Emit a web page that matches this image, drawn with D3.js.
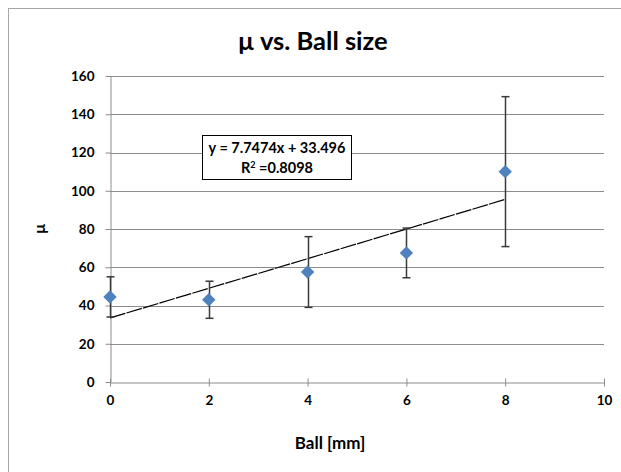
<!DOCTYPE html>
<html>
<head>
<meta charset="utf-8">
<script src="https://cdn.jsdelivr.net/npm/d3@7"></script>
<style>
  body { margin: 0; background: #fff; }
  text { font-family: Lato, "Open Sans", sans-serif; font-weight: bold; fill: #000; }
</style>
</head>
<body>
<svg id="chart"></svg>
<script>
// data
var ballSize = [0, 2, 4, 6, 8]
var mu = [44.5, 43, 57.5, 67.5, 110]
var muErr = [10.5, 9.7, 18.5, 13, 39.2]
var xTicks = [0, 2, 4, 6, 8, 10]
var yTicks = [0, 20, 40, 60, 80, 100, 120, 140, 160]
var trend = { slope: 7.7474, intercept: 33.496, r2: 0.8098 }

var width = 621, height = 472
var margin = { left: 110, right: 17, top: 76, bottom: 90 }

var svg = d3.select('#chart').attr('width', width).attr('height', height)

// outer chart border (only top/left fall inside the frame)
svg.append('rect')
    .attr('x', 8.5).attr('y', 8.5)
    .attr('width', 640).attr('height', 500)
    .attr('fill', 'none')
    .attr('stroke', '#a6a6a6')

var x = d3.scaleLinear().domain([0, 10]).range([margin.left, width - margin.right])
var y = d3.scaleLinear().domain([0, 160]).range([height - margin.bottom, margin.top])

// gridlines
svg.append('g')
    .selectAll('line')
    .data(yTicks.filter(d => d > 0))
    .enter().append('line')
    .attr('x1', x(0)).attr('x2', x(10))
    .attr('y1', d => Math.round(y(d)) + 0.5).attr('y2', d => Math.round(y(d)) + 0.5)
    .attr('stroke', '#8c8c8c')

// y axis
var yAxis = svg.append('g')
    .attr('transform', 'translate(' + (Math.round(x(0)) + 0.5) + ',0)')
    .call(d3.axisLeft(y).tickValues(yTicks).tickSize(5).tickSizeOuter(0).tickPadding(11))
yAxis.select('.domain').attr('stroke', '#8c8c8c')
yAxis.selectAll('.tick line').attr('stroke', '#8c8c8c')
yAxis.selectAll('.tick text').attr('font-size', '13.5px').attr('font-family', 'Lato').attr('font-weight', 'bold').attr('fill', '#000')

// x axis
var xAxis = svg.append('g')
    .attr('transform', 'translate(0,' + (Math.round(y(0)) + 0.5) + ')')
    .call(d3.axisBottom(x).tickValues(xTicks).tickSize(4).tickSizeOuter(0).tickPadding(9))
xAxis.select('.domain').attr('stroke', '#8c8c8c')
xAxis.selectAll('.tick line').attr('stroke', '#8c8c8c').attr('y1', -4)
xAxis.selectAll('.tick text').attr('font-size', '13.5px').attr('font-family', 'Lato').attr('font-weight', 'bold').attr('fill', '#000')

// trendline
svg.append('line')
    .attr('x1', x(0)).attr('y1', y(trend.intercept))
    .attr('x2', x(8)).attr('y2', y(trend.intercept + trend.slope * 8))
    .attr('stroke', '#000')
    .attr('stroke-width', 1.2)
    .attr('stroke-dasharray', '16,1.2')

// error bars
var eb = svg.append('g').attr('stroke', '#3a3a3a').attr('stroke-width', 1.5)
ballSize.forEach(function(b, i) {
    var cx = Math.round(x(b)) + 0.5
    eb.append('line')
        .attr('x1', cx).attr('x2', cx)
        .attr('y1', y(mu[i] + muErr[i])).attr('y2', y(mu[i] - muErr[i]))
    ;[mu[i] + muErr[i], mu[i] - muErr[i]].forEach(function(v) {
        eb.append('line')
            .attr('x1', cx - 4).attr('x2', cx + 4)
            .attr('y1', y(v)).attr('y2', y(v))
    })
})

// markers
svg.append('g')
    .selectAll('path')
    .data(ballSize)
    .enter().append('path')
    .attr('d', d3.symbol().type(d3.symbolDiamond2).size(115))
    .attr('transform', (d, i) => 'translate(' + x(d) + ',' + y(mu[i]) + ')')
    .attr('fill', '#4f81bd')

// equation box
svg.append('rect')
    .attr('x', 202.5).attr('y', 135.5)
    .attr('width', 149).attr('height', 44)
    .attr('fill', '#fff')
    .attr('stroke', '#000')

svg.append('text')
    .text('y = ' + trend.slope + 'x + ' + trend.intercept)
    .attr('x', 277).attr('y', 153)
    .attr('text-anchor', 'middle')
    .attr('font-size', '14.5px')

var r2 = svg.append('text')
    .attr('x', 277).attr('y', 173)
    .attr('text-anchor', 'middle')
    .attr('font-size', '14.5px')
r2.append('tspan').text('R')
r2.append('tspan').text('2').attr('font-size', '9px').attr('dy', -5)
r2.append('tspan').text(' =' + trend.r2.toFixed(4)).attr('dy', 5)

// title
svg.append('text')
    .text('μ vs. Ball size')
    .attr('x', 313).attr('y', 50)
    .attr('text-anchor', 'middle')
    .attr('font-size', '25.5px')

// axis titles
svg.append('text')
    .text('Ball [mm]')
    .attr('x', 330).attr('y', 449)
    .attr('text-anchor', 'middle')
    .attr('font-size', '17px')

svg.append('text')
    .text('μ')
    .attr('transform', 'translate(45,229) rotate(-90)')
    .attr('text-anchor', 'middle')
    .attr('font-size', '16px')
</script>
</body>
</html>
